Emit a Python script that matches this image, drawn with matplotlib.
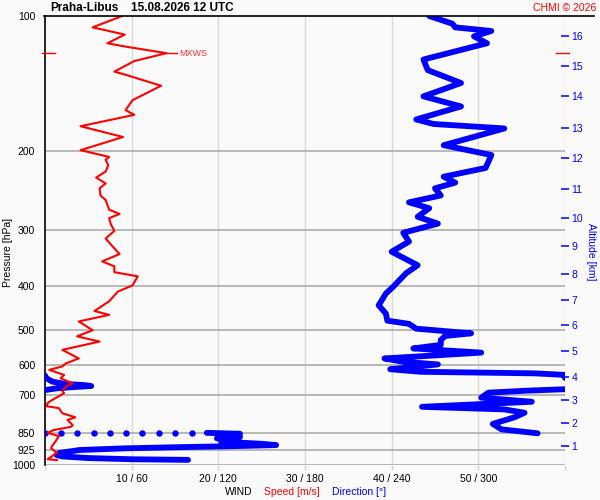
import numpy as np
import matplotlib
matplotlib.use("Agg")
import matplotlib.pyplot as plt
from matplotlib.ticker import FixedLocator, NullLocator

plt.rcParams['font.family'] = ['Liberation Sans', 'DejaVu Sans']

BG = '#fafafa'

# pressure levels for the horizontal grid and left labels
press_levels = [100, 200, 300, 400, 500, 600, 700, 850, 925, 1000]

# altitude ticks on the right axis (km) and the pressure they fall on
alt_km = [1, 2, 3, 4, 5, 6, 7, 8, 9, 10, 11, 12, 13, 14, 15, 16]
alt_press = [907, 806, 716, 637, 557, 488, 429, 375, 325, 282, 243, 207, 178, 151, 129, 111]

# wind speed profile (m/s)
speed_p = [100, 106, 110, 115, 117, 121, 126, 133, 135, 143, 154, 162, 166, 176, 186, 199,
           206, 209, 215, 222, 229, 236, 242, 251, 257, 270, 276, 282, 291, 301, 313, 326,
           339, 352, 361, 372, 380, 398, 411, 432, 454, 463, 479, 501, 517, 531, 554, 579,
           594, 603, 614, 630, 641, 658, 669, 684, 692, 717, 728, 740, 747, 767, 783, 794,
           801, 815, 822, 836, 848, 862, 887, 908, 918, 940, 950, 971, 975]
speed_ms = [8.9, 5.5, 9.2, 7.2, 9.3, 14.0, 10.3, 8.0, 9.2, 13.4, 10.1, 9.3, 10.3, 4.1, 9.0, 4.1,
            7.4, 7.0, 7.3, 7.0, 5.9, 7.0, 6.3, 6.4, 7.0, 7.4, 8.6, 7.4, 7.6, 8.0, 7.0, 7.8,
            8.6, 6.6, 8.0, 8.0, 10.7, 10.1, 8.4, 7.4, 5.7, 7.4, 3.9, 5.5, 3.7, 6.3, 2.0, 3.9,
            2.4, 2.0, 0.5, 2.2, 1.8, 3.2, 2.4, 2.0, 2.2, 0.8, 0.3, 0.2, 1.6, 2.0, 3.5, 2.6,
            2.8, 3.2, 3.0, 1.0, 0.3, 1.6, 1.2, 0.8, 0.7, 1.4, 1.0, 0.3, 1.4]

# max wind
mxws_p = 121
mxws_speed = 14.0

# wind direction (deg), split where it wraps through north
dir_a_p = [100, 102, 104, 106, 108, 111, 115, 125, 132, 141, 151, 159, 170, 174, 178, 194, 204,
           211, 218, 228, 235, 242, 251, 260, 268, 280, 290, 304, 318, 335, 359, 374, 401, 415,
           441, 460, 477, 485, 497, 509, 516, 527, 540, 550, 562, 579, 589, 597, 612, 620, 625,
           630, 640]
dir_a = [266, 274, 282, 284, 309, 297, 306, 262, 265, 288, 262, 288, 257, 269, 318, 276, 309,
         307, 305, 276, 284, 270, 274, 252, 266, 258, 272, 248, 252, 240, 258, 250, 241, 236,
         231, 236, 237, 252, 257, 295, 277, 274, 274, 255, 302, 235, 248, 272, 239, 260, 339,
         360, 360]
dir_b_p = [632, 641, 652, 660, 664, 667, 671, 675, 678, 681]
dir_b = [0, 1, 5, 14, 28, 32, 18, 8, 4, 0]
dir_c_p = [678, 683, 690, 708, 723, 742, 752, 765, 783, 810, 833, 850]
dir_c = [360, 334, 307, 302, 337, 261, 318, 332, 325, 310, 316, 341]
dir_dots = [0, 11, 22, 34, 45, 56, 67, 79, 90, 102]
dir_dots_p = 850
dir_d_p = [848, 852, 860, 866, 872, 880, 887, 897, 903, 908, 913, 918, 926, 940, 950, 957,
           965, 971, 974]
dir_d = [112, 135, 125, 135, 119, 130, 122, 150, 160, 130, 90, 56, 24, 10, 8, 12, 30, 60, 99]

dir_ticks = [0, 60, 120, 180, 240, 300, 360]
dir_labels = ['', '10 / 60', '20 / 120', '30 / 180', '40 / 240', '50 / 300', '']


fig = plt.figure(figsize=(6, 5), dpi=100, facecolor=BG)
ax = fig.add_axes([45 / 600, 35 / 500, 520 / 600, 449 / 500])
ax.set_facecolor(BG)
ax.set_yscale('log')
ax.set_ylim(1000, 100)
ax.set_xlim(0, 360)
ax.yaxis.set_major_locator(FixedLocator(press_levels))
ax.yaxis.set_minor_locator(NullLocator())
ax.set_yticklabels([str(p) for p in press_levels])
ax.tick_params(axis='y', length=0, pad=7, labelsize=7.5, colors='black')
ax.set_xticks(dir_ticks)
ax.set_xticklabels(dir_labels)
ax.tick_params(axis='x', length=3.6, width=1, color='#d6d6d6', pad=3.2, labelsize=7.5)
ax.xaxis.get_major_ticks()[0].tick1line.set_color('black')

for sp in ['top', 'right', 'bottom']:
    ax.spines[sp].set_visible(False)
ax.spines['left'].set_linewidth(1.2)

for p in press_levels[1:]:
    ax.axhline(p, color='#a6a6a6', lw=1.1, zorder=1)
for d in dir_ticks[1:]:
    ax.axvline(d, color='#dadada', lw=1.0, zorder=0.5)

# direction trace
blue = '#0000ff'
for pp, dd in [(dir_a_p, dir_a), (dir_b_p, dir_b), (dir_c_p, dir_c), (dir_d_p, dir_d)]:
    ax.plot(dd, pp, color=blue, lw=4.2, solid_capstyle='round', solid_joinstyle='round', zorder=3)
ax.plot(dir_dots, [dir_dots_p] * len(dir_dots), 'o', color=blue, ms=3.6, zorder=3)

# speed trace on its own x scale
ax_spd = ax.twiny()
ax_spd.set_xlim(0, 60)
ax_spd.xaxis.set_visible(False)
for sp in ax_spd.spines.values():
    sp.set_visible(False)
ax_spd.plot(speed_ms, speed_p, color='#ff0000', lw=1.5, zorder=5)
ax_spd.plot([mxws_speed, 15.2], [mxws_p, mxws_p], color='#ff0000', lw=1.0)
ax_spd.text(15.5, mxws_p, 'MXWS', color='#ff3030', fontsize=6.5, va='center', ha='left')
ax_spd.plot([-0.35, 1.15], [mxws_p, mxws_p], color='#ff0000', lw=1.0, clip_on=False)
ax_spd.plot([58.95, 60.45], [mxws_p, mxws_p], color='#ff0000', lw=1.0, clip_on=False)
ax_spd.plot([-0.1, 63.3], [100, 100], color='black', lw=1.2, clip_on=False, zorder=6)

# altitude scale
ax_alt = ax.twinx()
ax_alt.set_yscale('log')
ax_alt.set_ylim(1000, 100)
ax_alt.yaxis.set_major_locator(FixedLocator(alt_press))
ax_alt.yaxis.set_minor_locator(NullLocator())
ax_alt.set_yticklabels([str(k) for k in alt_km])
ax_alt.tick_params(axis='y', direction='inout', length=6, width=1.1, color=blue,
                   labelcolor=blue, labelsize=7.5, pad=1.5)
for sp in ax_alt.spines.values():
    sp.set_visible(False)

# texts
fig.text(50 / 600, 1 - 8 / 500, 'Praha-Libus', fontsize=8.5, fontweight='bold', va='center')
fig.text(131 / 600, 1 - 8 / 500, '15.08.2026 12 UTC', fontsize=8.5, fontweight='bold', va='center')
fig.text(596 / 600, 1 - 8 / 500, 'CHMI \u00a9 2026', fontsize=7.5, color='#ff0000', ha='right', va='center')
fig.text(8 / 600, 1 - 252 / 500, 'Pressure [hPa]', fontsize=7.5, rotation=90, ha='center', va='center')
fig.text(591 / 600, 1 - 252 / 500, 'Altitude [km]', fontsize=7.5, rotation=-90, ha='center', va='center',
         color=blue)
fig.text(225 / 600, 1 - 492 / 500, 'WIND', fontsize=7.5, va='center')
fig.text(264 / 600, 1 - 492 / 500, 'Speed [m/s]', fontsize=7.5, color='#ff0000', va='center')
fig.text(332 / 600, 1 - 492 / 500, 'Direction [\u00b0]', fontsize=7.5, color=blue, va='center')

fig.savefig('out.png', dpi=100, facecolor=BG)
